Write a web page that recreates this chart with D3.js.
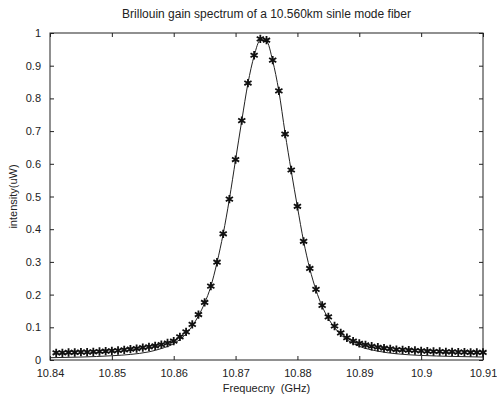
<!DOCTYPE html>
<html>
<head>
<meta charset="utf-8">
<script src="https://cdn.jsdelivr.net/npm/d3@7"></script>
<style>
  body { margin: 0; background: #fff; }
  svg text { font-family: "Liberation Sans", Arial, sans-serif; fill: #222; }
</style>
</head>
<body>
<svg id="chart" width="497" height="399"></svg>
<script>
// measured points (stars)
var freq = [10.841, 10.842, 10.843, 10.844, 10.845, 10.846, 10.847, 10.848, 10.849, 10.850,
            10.851, 10.852, 10.853, 10.854, 10.855, 10.856, 10.857, 10.858, 10.859, 10.860,
            10.861, 10.862, 10.863, 10.864, 10.865, 10.866, 10.867, 10.868, 10.869, 10.870,
            10.871, 10.872, 10.873, 10.874, 10.875, 10.876, 10.877, 10.878, 10.879, 10.880,
            10.881, 10.882, 10.883, 10.884, 10.885, 10.886, 10.887, 10.888, 10.889, 10.890,
            10.891, 10.892, 10.893, 10.894, 10.895, 10.896, 10.897, 10.898, 10.899, 10.900,
            10.901, 10.902, 10.903, 10.904, 10.905, 10.906, 10.907, 10.908, 10.909, 10.910];
var intensity = [0.022, 0.022, 0.023, 0.023, 0.024, 0.024, 0.025, 0.026, 0.027, 0.028,
                 0.029, 0.031, 0.033, 0.035, 0.038, 0.040, 0.043, 0.047, 0.052, 0.058,
                 0.071, 0.086, 0.109, 0.139, 0.176, 0.226, 0.299, 0.386, 0.492, 0.613,
                 0.732, 0.847, 0.932, 0.982, 0.978, 0.917, 0.823, 0.691, 0.581, 0.470,
                 0.363, 0.280, 0.216, 0.167, 0.132, 0.104, 0.083, 0.068, 0.058, 0.051,
                 0.046, 0.042, 0.039, 0.036, 0.034, 0.032, 0.031, 0.030, 0.029, 0.028,
                 0.027, 0.026, 0.026, 0.025, 0.025, 0.024, 0.024, 0.023, 0.023, 0.023];

// fitted curve (solid line)
var fitFreq = [10.840, 10.845, 10.850, 10.853, 10.856, 10.858, 10.860, 10.861, 10.862, 10.863,
               10.864, 10.865, 10.866, 10.867, 10.868, 10.869, 10.870, 10.871, 10.872, 10.873,
               10.874, 10.875, 10.876, 10.877, 10.878, 10.879, 10.880, 10.881, 10.882, 10.883,
               10.884, 10.885, 10.886, 10.887, 10.888, 10.890, 10.893, 10.896, 10.900, 10.905, 10.910];
var fitVal = [0.007, 0.009, 0.013, 0.017, 0.025, 0.035, 0.050, 0.063, 0.080, 0.104,
              0.135, 0.174, 0.225, 0.298, 0.386, 0.492, 0.612, 0.732, 0.846, 0.930,
              0.978, 0.975, 0.915, 0.822, 0.695, 0.578, 0.468, 0.363, 0.279, 0.214,
              0.164, 0.127, 0.099, 0.078, 0.062, 0.042, 0.027, 0.019, 0.014, 0.011, 0.009];

var xTicks = [10.84, 10.85, 10.86, 10.87, 10.88, 10.89, 10.9, 10.91];
var yTicks = [0, 0.1, 0.2, 0.3, 0.4, 0.5, 0.6, 0.7, 0.8, 0.9, 1];

var svg = d3.select("#chart");
var margin = {left: 50, right: 14, top: 33, bottom: 39};
var width = +svg.attr("width") - margin.left - margin.right;
var height = +svg.attr("height") - margin.top - margin.bottom;

var x = d3.scaleLinear().domain([10.84, 10.91]).range([0, width]);
var y = d3.scaleLinear().domain([0, 1]).range([height, 0]);

var g = svg.append("g").attr("transform", "translate(" + margin.left + "," + margin.top + ")");

// box
g.append("rect")
  .attr("x", 0).attr("y", 0)
  .attr("width", width).attr("height", height)
  .attr("fill", "none").attr("stroke", "#222").attr("stroke-width", 1);

// axes with inward ticks
var fmt = function(d) { return String(d); };
var xb = g.append("g").attr("transform", "translate(0," + height + ")")
  .call(d3.axisBottom(x).tickValues(xTicks).tickSize(-4).tickPadding(9).tickFormat(fmt));
var xt = g.append("g")
  .call(d3.axisTop(x).tickValues(xTicks).tickSize(-4).tickFormat(""));
var yl = g.append("g")
  .call(d3.axisLeft(y).tickValues(yTicks).tickSize(-4).tickPadding(9).tickFormat(fmt));
var yr = g.append("g").attr("transform", "translate(" + width + ",0)")
  .call(d3.axisRight(y).tickValues(yTicks).tickSize(-4).tickFormat(""));

[xb, xt, yl, yr].forEach(function(a) {
  a.select(".domain").remove();
  a.selectAll("line").attr("stroke", "#222");
  a.selectAll("text").style("font-size", "11px").attr("fill", "#222");
});

// fit line
var line = d3.line()
  .x(function(d, i) { return x(fitFreq[i]); })
  .y(function(d) { return y(d); })
  .curve(d3.curveMonotoneX);

g.append("path")
  .datum(fitVal)
  .attr("d", line)
  .attr("fill", "none")
  .attr("stroke", "#222")
  .attr("stroke-width", 1);

// star markers
var star = d3.symbol().type(d3.symbolAsterisk).size(48);
g.selectAll(".pt")
  .data(intensity)
  .enter().append("path")
  .attr("class", "pt")
  .attr("d", star)
  .attr("transform", function(d, i) { return "translate(" + x(freq[i]) + "," + y(d) + ")"; })
  .attr("fill", "none")
  .attr("stroke", "#111")
  .attr("stroke-width", 1.8);

// labels
svg.append("text")
  .attr("x", margin.left + width / 2)
  .attr("y", 18)
  .attr("text-anchor", "middle")
  .style("font-size", "12px")
  .text("Brillouin gain spectrum of a 10.560km sinle mode fiber");

svg.append("text")
  .attr("x", margin.left + width / 2)
  .attr("y", 392)
  .attr("text-anchor", "middle")
  .style("font-size", "11px")
  .attr("xml:space", "preserve")
  .text("Frequecny  (GHz)");

svg.append("text")
  .attr("transform", "translate(17," + (margin.top + height / 2) + ") rotate(-90)")
  .attr("text-anchor", "middle")
  .style("font-size", "11px")
  .text("intensity(uW)");
</script>
</body>
</html>
